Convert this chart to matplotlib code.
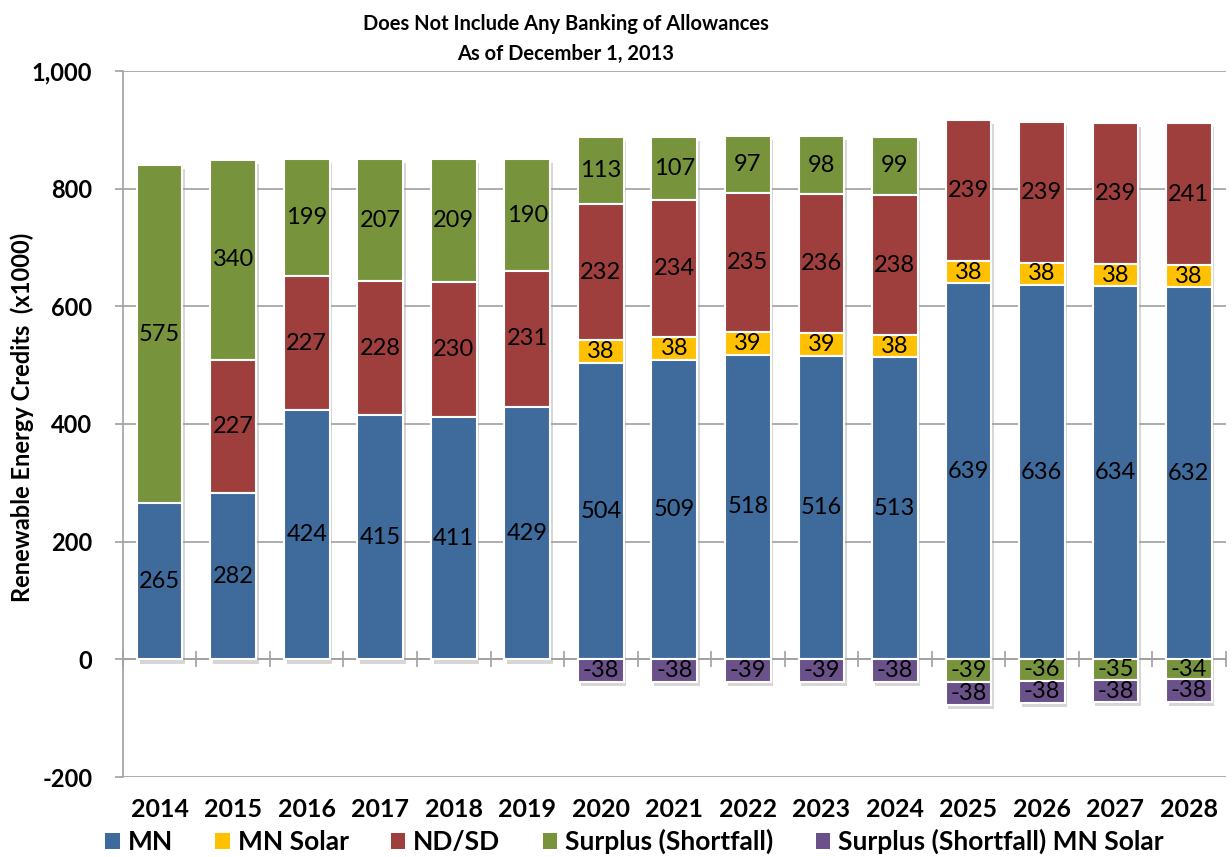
import numpy as np
import matplotlib
matplotlib.use("Agg")
import matplotlib.pyplot as plt
import matplotlib.patheffects as pe
from matplotlib.patches import Patch
from matplotlib.ticker import FuncFormatter, MultipleLocator

plt.rcParams['font.family'] = ['Lato', 'DejaVu Sans']

years = [str(y) for y in range(2014, 2029)]
mn = [265, 282, 424, 415, 411, 429, 504, 509, 518, 516, 513, 639, 636, 634, 632]
mn_solar = [0, 0, 0, 0, 0, 0, 38, 38, 39, 39, 38, 38, 38, 38, 38]
nd_sd = [0, 227, 227, 228, 230, 231, 232, 234, 235, 236, 238, 239, 239, 239, 241]
surplus = [575, 340, 199, 207, 209, 190, 113, 107, 97, 98, 99, -39, -36, -35, -34]
surplus_solar = [0, 0, 0, 0, 0, 0, -38, -38, -39, -39, -38, -38, -38, -38, -38]

series = [
    ("MN", mn, "#3F6A9C"),
    ("MN Solar", mn_solar, "#FFC000"),
    ("ND/SD", nd_sd, "#9E3F3E"),
    ("Surplus (Shortfall)", surplus, "#77933C"),
    ("Surplus (Shortfall) MN Solar", surplus_solar, "#6A5189"),
]

fig = plt.figure(figsize=(12.32, 8.57), dpi=100)
ax = fig.add_axes([0.0998, 0.0933, 0.895, 0.824])

x = np.arange(len(years))
pos_base = np.zeros(len(years))
neg_base = np.zeros(len(years))
shadow = [pe.SimplePatchShadow(offset=(2, -3), shadow_rgbFace="#999999", alpha=0.4), pe.Normal()]

for name, vals, color in series:
    v = np.array(vals, dtype=float)
    bottom = np.where(v >= 0, pos_base, neg_base)
    bars = ax.bar(x, v, 0.62, bottom=bottom, color=color, edgecolor="white",
                  linewidth=1.5, zorder=3)
    for b, val in zip(bars, v):
        if val == 0:
            b.set_visible(False)
            continue
        # lower segments drawn later so shadows don't fall on them
        low = min(b.get_y(), b.get_y() + b.get_height())
        b.set_zorder(3 + (1000 - low) * 1e-4)
        b.set_path_effects(shadow)
    labels = [str(int(val)) if val != 0 else "" for val in v]
    ax.bar_label(bars, labels=labels, label_type="center", fontsize=17, color="black", zorder=5)
    pos_base = pos_base + np.where(v > 0, v, 0)
    neg_base = neg_base + np.where(v < 0, v, 0)

ax.set_ylim(-200, 1000)
ax.set_xlim(-0.5, len(years) - 0.5)
ax.yaxis.set_major_locator(MultipleLocator(200))
ax.yaxis.set_major_formatter(FuncFormatter(lambda v, p: f"{int(v):,}"))
ax.grid(axis="y", color="#A0A0A0", linewidth=1.2, zorder=0)
ax.set_axisbelow(True)

for s in ["top", "right"]:
    ax.spines[s].set_visible(False)
ax.spines["left"].set_color("#A0A0A0")
ax.spines["left"].set_linewidth(1.2)
ax.spines["bottom"].set_position(("data", 0))
ax.spines["bottom"].set_color("#A0A0A0")
ax.spines["bottom"].set_linewidth(1.2)
ax.spines["bottom"].set_zorder(2)

ax.set_xticks(x)
ax.set_xticklabels(years, fontsize=18, fontweight="bold")
ax.set_xticks(np.arange(-0.5, len(years)), minor=True)
ax.tick_params(axis="x", which="major", length=0, pad=100)
ax.tick_params(axis="x", which="minor", direction="inout", length=12, color="#A0A0A0", width=1.2)
ax.tick_params(axis="y", length=6, color="#A0A0A0", width=1.2, labelsize=17, pad=16)
for t in ax.get_yticklabels():
    t.set_fontweight("bold")

ax.set_ylabel("Renewable Energy Credits  (x1000)", fontsize=17, fontweight="bold")
ax.yaxis.set_label_coords(-0.081, 0.51)

fig.text(0.459, 0.972, "Does Not Include Any Banking of Allowances", ha="center", va="center",
         fontsize=14.5, fontweight="bold")
fig.text(0.459, 0.937, "As of December 1, 2013", ha="center", va="center",
         fontsize=14.5, fontweight="bold")

handles = [Patch(facecolor=c, edgecolor="none") for _, _, c in series]
fig.legend(handles, [n for n, _, _ in series], loc="center", bbox_to_anchor=(0.515, 0.018),
           ncol=5, frameon=False, handlelength=0.55, handleheight=0.55, handletextpad=0.3,
           columnspacing=1.6, prop={"size": 19, "weight": "bold"})

fig.savefig("out.png", dpi=100)
